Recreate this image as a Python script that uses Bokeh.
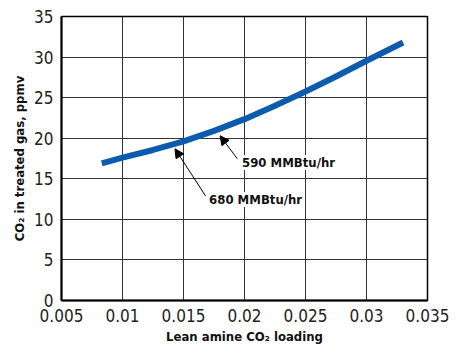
from bokeh.plotting import figure
from bokeh.models import Arrow, NormalHead, Label, FixedTicker, Range1d
from bokeh.embed import file_html
from bokeh.resources import INLINE

# Data
loading = [0.0083, 0.010, 0.0125, 0.015, 0.0175, 0.020, 0.0225, 0.025, 0.0275, 0.030, 0.033]
co2_ppmv = [16.9, 17.6, 18.55, 19.6, 20.9, 22.35, 24.0, 25.75, 27.6, 29.55, 31.8]

x_ticks = [0.005, 0.01, 0.015, 0.02, 0.025, 0.03, 0.035]
x_tick_labels = ["0.005", "0.01", "0.015", "0.02", "0.025", "0.03", "0.035"]
y_ticks = [0, 5, 10, 15, 20, 25, 30, 35]

# Annotations: (text, text x, text y, arrow tail x, tail y, arrow tip x, tip y)
ann_text = ["590 MMBtu/hr", "680 MMBtu/hr"]
ann_tx = [0.0198, 0.0171]
ann_ty = [17.0, 12.45]
arr_x0 = [0.0194, 0.0168]
arr_y0 = [17.5, 12.9]
arr_x1 = [0.0180, 0.0143]
arr_y1 = [20.3, 18.7]

FONT = "'DejaVu Sans Condensed', 'Liberation Sans Narrow', Roboto, sans-serif"

p = figure(width=451, height=346, output_backend="svg", toolbar_location=None,
           x_range=Range1d(0.005, 0.035), y_range=Range1d(0, 35),
           min_border_left=61, min_border_top=16, min_border_right=24, min_border_bottom=10)

p.line(loading, co2_ppmv, line_color="#0B5CAD", line_width=6, line_join="round")

p.xaxis.ticker = FixedTicker(ticks=x_ticks)
p.yaxis.ticker = FixedTicker(ticks=y_ticks)
p.xaxis.major_label_overrides = {t: l for t, l in zip(x_ticks, x_tick_labels)}

for ax in (p.xaxis[0], p.yaxis[0]):
    ax.axis_line_color = "black"
    ax.axis_line_width = 2
    ax.major_tick_line_color = None
    ax.minor_tick_line_color = None
    ax.major_label_text_font = FONT
    ax.major_label_text_font_size = "17px"
    ax.major_label_text_color = "#222222"
    ax.axis_label_text_font = FONT
    ax.axis_label_text_font_style = "bold"
    ax.axis_label_text_font_size = "13px"
    ax.axis_label_text_color = "#111111"
    ax.major_label_standoff = 2
    ax.axis_label_standoff = 4

p.xaxis.axis_label = "Lean amine CO\u2082 loading"
p.yaxis.axis_label = "CO\u2082 in treated gas, ppmv"

p.grid.grid_line_color = "#333333"
p.grid.grid_line_width = 1
p.outline_line_color = "black"
p.outline_line_width = 1.5
p.background_fill_color = "white"
p.border_fill_color = "white"

for i in range(len(ann_text)):
    p.add_layout(Arrow(end=NormalHead(size=9, fill_color="black", line_color="black", line_width=1),
                       x_start=arr_x0[i], y_start=arr_y0[i], x_end=arr_x1[i], y_end=arr_y1[i],
                       line_color="black", line_width=1))
    p.add_layout(Label(x=ann_tx[i], y=ann_ty[i], text=ann_text[i], text_font=FONT,
                       text_font_style="bold", text_font_size="13px", text_color="#111111",
                       text_baseline="middle", text_align="left",
                       background_fill_color="white", x_offset=0))

open("out.html", "w").write(file_html(p, INLINE))
